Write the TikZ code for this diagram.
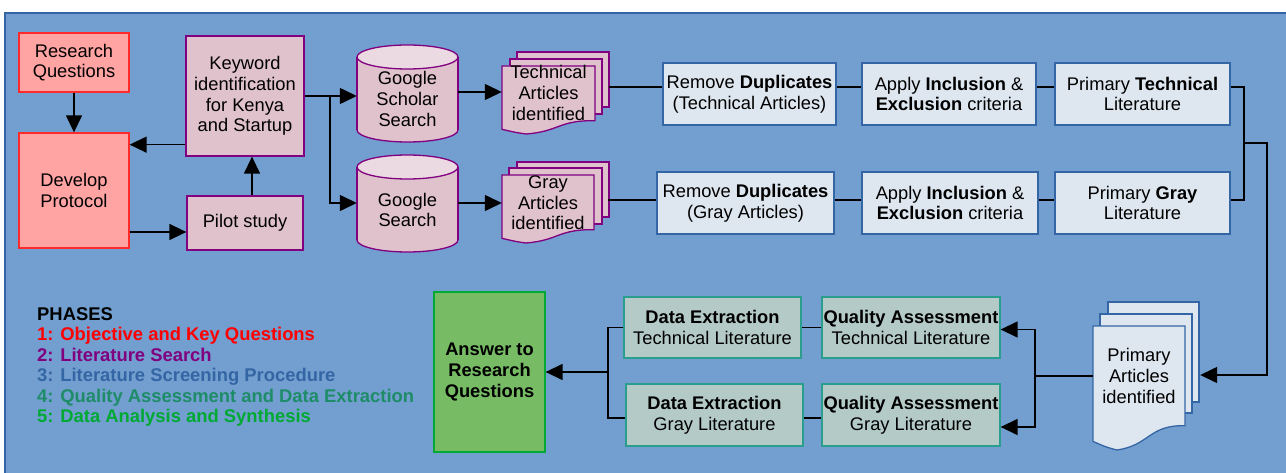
\documentclass[tikz,border=0pt]{standalone}
\usepackage{fontspec}
\setmainfont{Liberation Sans}
\usetikzlibrary{arrows.meta}

\definecolor{panelfill}{HTML}{729FCF}
\definecolor{panelline}{HTML}{3465A4}
\definecolor{redfill}{HTML}{FFA3A3}
\definecolor{redline}{HTML}{FF2A2A}
\definecolor{pinkfill}{HTML}{E0C2CD}
\definecolor{pinktop}{HTML}{ECDAE2}
\definecolor{purpleline}{HTML}{800080}
\definecolor{screenfill}{HTML}{DEE6EF}
\definecolor{tealfill}{HTML}{B4CAC6}
\definecolor{tealline}{HTML}{2A9D8C}
\definecolor{greenfill}{HTML}{77BC65}
\definecolor{greenline}{HTML}{00A933}
\definecolor{phaseone}{HTML}{FF0000}
\definecolor{phasetwo}{HTML}{800080}
\definecolor{phasethree}{HTML}{3465A4}
\definecolor{phasefour}{HTML}{1E8C68}
\definecolor{phasefive}{HTML}{00A933}

% flowchart "document" page with a wavy bottom edge
\newcommand\docfront[5]{%
  \filldraw[#5] (#1,#2) -- ({#1+#3},#2) -- ({#1+#3},{#2+0.804*#4})
    .. controls ({#1+0.604*#3},{#2+0.797*#4}) and ({#1+0.618*#3},{#2+0.962*#4}) .. ({#1+0.26*#3},{#2+#4})
    .. controls ({#1+0.132*#3},{#2+0.977*#4}) and ({#1+0.086*#3},{#2+0.958*#4}) .. (#1,{#2+0.931*#4}) -- cycle;}

% database cylinder: left, top, right, bottom
\newcommand\dbcyl[4]{%
  \filldraw[pinkshape] ({(#1+#3)/2},{#4-12}) ellipse[x radius={(#3-#1)/2}, y radius=12];
  \fill[pinkfill] (#1,{#2+12}) rectangle (#3,{#4-12});
  \draw[purpleline, line width=1.3pt] (#1,{#2+12}) -- (#1,{#4-12}) (#3,{#2+12}) -- (#3,{#4-12});
  \filldraw[pinkshape, fill=pinktop] ({(#1+#3)/2},{#2+12}) ellipse[x radius={(#3-#1)/2}, y radius=12];}

\tikzset{
  every node/.style={font=\fontsize{18.3}{20.6}\selectfont, align=center, inner sep=0pt},
  box/.style={draw, line width=1.3pt, minimum width=#1, text=black},
  redbox/.style={box=110pt, fill=redfill, draw=redline},
  pinkbox/.style={box=#1, fill=pinkfill, draw=purpleline},
  screenbox/.style={box=#1, fill=screenfill, draw=panelline, minimum height=62pt},
  tealbox/.style={box=#1, fill=tealfill, draw=tealline},
  pinkshape/.style={fill=pinkfill, draw=purpleline, line width=1.3pt},
  blueshape/.style={fill=screenfill, draw=panelline, line width=1.3pt},
  txt/.style={minimum width=#1},
  link/.style={draw=black, line width=1.4pt},
  arr/.style={link, -{Triangle[length=17pt,width=16pt]}},
}

\begin{document}
\begin{tikzpicture}[x=1pt, y=-1pt]
\useasboundingbox (0,0) rectangle (1286,473);
\fill[white] (0,0) rectangle (1286,473);

% background panel
\fill[panelfill] (5,13) rectangle (1286,473);
\draw[panelline, line width=2pt] (5,473) -- (5,13) -- (1286,13);

% ---------- shapes drawn behind their labels ----------
\dbcyl{357}{45}{458}{142}
\dbcyl{357}{155}{458}{252}

% technical articles stack
\filldraw[pinkshape] (517,52) rectangle (609,107);
\filldraw[pinkshape] (510,59) rectangle (602,114);
\docfront{502}{66}{93}{68}{pinkshape}
% gray articles stack
\filldraw[pinkshape] (517,162) rectangle (609,217);
\filldraw[pinkshape] (509,168) rectangle (602,224);
\docfront{502}{175}{92}{68}{pinkshape}
% primary articles stack
\filldraw[blueshape] (1108,302) rectangle (1199,402);
\filldraw[blueshape] (1100,314) rectangle (1192,413);
\docfront{1093}{326}{92}{124}{blueshape}

% ---------- phase 1 and 2 ----------
\node[redbox, minimum height=59pt] (rq) at (74,62.5) {Research\\Questions};
\node[redbox, minimum height=115pt] (dp) at (74,190.5) {Develop\\Protocol};
\node[pinkbox=118pt, minimum height=120pt] (kw) at (245,96) {Keyword\\identification\\for Kenya\\and Startup};
\node[pinkbox=116pt, minimum height=54pt] (pilot) at (245,223) {Pilot study};

\node[txt=101pt] (gs) at (407.5,99) {Google\\Scholar\\Search};
\node[txt=101pt] (gse) at (407.5,210) {Google\\Search};
\node[txt=93pt] (tdoc) at (548.5,93) {Technical\\Articles\\identified};
\node[txt=92pt] (gdoc) at (548,203) {Gray\\Articles\\identified};

% ---------- phase 3 ----------
\node[screenbox=173pt] (rdt) at (749.5,94) {Remove \textbf{Duplicates}\\(Technical Articles)};
\node[screenbox=174pt] (iet) at (949,94) {Apply \textbf{Inclusion} \&\\\textbf{Exclusion} criteria};
\node[screenbox=175pt] (ptl) at (1142.5,94) {Primary \textbf{Technical}\\Literature};
\node[screenbox=177pt] (rdg) at (745.5,203) {Remove \textbf{Duplicates}\\(Gray Articles)};
\node[screenbox=176pt] (ieg) at (950,203) {Apply \textbf{Inclusion} \&\\\textbf{Exclusion} criteria};
\node[screenbox=175pt] (pgl) at (1142.5,203) {Primary \textbf{Gray}\\Literature};
\node[txt=92pt] (pa) at (1139,376) {Primary\\Articles\\identified};

% ---------- phase 4 and 5 ----------
\node[tealbox=178pt, minimum height=61pt] (qat) at (911,327.5) {\textbf{Quality Assessment}\\Technical Literature};
\node[tealbox=178pt, minimum height=62pt] (qag) at (911,415) {\textbf{Quality Assessment}\\Gray Literature};
\node[tealbox=177pt, minimum height=61pt] (det) at (712.5,327.5) {\textbf{Data Extraction}\\Technical Literature};
\node[tealbox=177pt, minimum height=62pt] (deg) at (714.5,415) {\textbf{Data Extraction}\\Gray Literature};
\node[box=111pt, minimum height=160pt, fill=greenfill, draw=greenline] (ans) at (489.5,372) {\textbf{Answer to}\\\textbf{Research}\\\textbf{Questions}};

% legend
\node[anchor=west, align=left, font=\fontsize{18.4}{20.4}\selectfont\bfseries] (phases) at (37,367) {PHASES\\
  \textcolor{phaseone}{1: Objective and Key Questions}\\
  \textcolor{phasetwo}{2: Literature Search}\\
  \textcolor{phasethree}{3: Literature Screening Procedure}\\
  \textcolor{phasefour}{4: Quality Assessment and Data Extraction}\\
  \textcolor{phasefive}{5: Data Analysis and Synthesis}};

% ---------- connectors ----------
\draw[arr] (rq) -- (dp);
\coordinate (kwout) at ([yshift=12pt]kw.south west);
\draw[arr] (kwout) -- (kwout -| dp.east);
\coordinate (pilotin) at ([yshift=-9pt]pilot.west);
\draw[arr] (pilotin -| dp.east) -- (pilotin);
\coordinate (pilotup) at ([xshift=7pt]pilot.north);
\draw[arr] (pilotup) -- (pilotup |- kw.south);

\coordinate (split) at (330,96);
\draw[arr] (kw.east) -- (kw.east -| gs.west);
\draw[arr] (split) |- ([yshift=7pt]gse.west);
\draw[arr] ([yshift=7pt]gs.east) -- ([yshift=1pt]tdoc.west);
\draw[arr] ([yshift=7pt]gse.east) -- (gdoc.west);

\draw[link] ([xshift=14pt,yshift=6pt]tdoc.east) -- ([yshift=7pt]rdt.west);
\draw[link] ([yshift=7pt]rdt.east) -- ([yshift=7pt]iet.west);
\draw[link] ([yshift=7pt]iet.east) -- ([yshift=7pt]ptl.west);
\draw[link] ([xshift=14pt,yshift=3pt]gdoc.east) -- ([yshift=3pt]rdg.west);
\draw[link] ([yshift=3pt]rdg.east) -- ([yshift=3pt]ieg.west);
\draw[link] ([yshift=3pt]ieg.east) -- ([yshift=3pt]pgl.west);

\coordinate (merge) at (1244,143);
\coordinate (mergeout) at (1267,143);
\draw[link] ([yshift=7pt]ptl.east) -| (merge) |- ([yshift=3pt]pgl.east);
\draw[arr] (merge) -- (mergeout) |- ([xshift=15pt,yshift=1pt]pa.east);

\coordinate (qsplit) at (1035,376);
\draw[link] (pa.west) -- (qsplit);
\draw[arr] (qsplit) |- ([yshift=-2pt]qat.east);
\draw[arr] (qsplit) |- ([yshift=-12pt]qag.east);
\draw[link] (qat.west) -- (det.east);
\draw[link] ([yshift=-3pt]qag.west) -- ([yshift=-3pt]deg.east);

\coordinate (dsplit) at (608,372);
\draw[link] (det.west) -| (dsplit) |- ([yshift=-3pt]deg.west);
\draw[arr] (dsplit) -- (ans.east);
\end{tikzpicture}
\end{document}
